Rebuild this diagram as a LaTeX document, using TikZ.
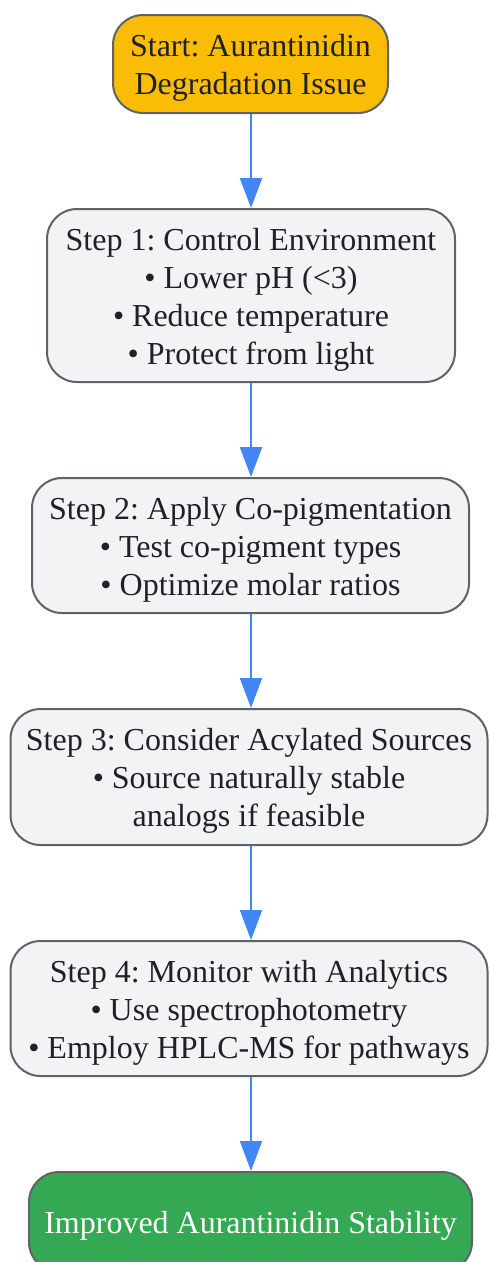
\documentclass[tikz,border=0pt]{standalone}
\usepackage{fontspec}
\setmainfont{Liberation Serif}
\frenchspacing
\usetikzlibrary{arrows.meta}
\definecolor{edgegray}{HTML}{5F6368}
\definecolor{stepfill}{HTML}{F1F3F4}
\definecolor{startfill}{HTML}{FBBC05}
\definecolor{endfill}{HTML}{34A853}
\definecolor{arrowblue}{HTML}{4285F4}
\definecolor{txt}{HTML}{202124}
\tikzset{
  box/.style={draw=edgegray, line width=2pt, rounded corners=30pt, inner sep=0pt},
  stepbox/.style={box, fill=stepfill},
  lbl/.style={align=center, font=\fontsize{32}{38}\selectfont\frenchspacing, text=txt,
    inner sep=0pt, anchor=center, yshift=-4pt},
  arr/.style={draw=arrowblue, line width=2pt, -{Triangle[length=30pt,width=22pt]}}
}
\begin{document}
\begin{tikzpicture}[x=1pt,y=-1pt]
\useasboundingbox (0,0) rectangle (489,1262);
\node[box, fill=startfill, minimum width=275pt, minimum height=98pt,
  label={[lbl]center:{Start: Aurantinidin\\Degradation Issue}}] (s) at (250.5,64) {};
\node[stepbox, minimum width=408pt, minimum height=173pt,
  label={[lbl]center:{Step 1: Control Environment\\• Lower pH (<3)\\• Reduce temperature\\• Protect from light}}] (a) at (251,295.5) {};
\node[stepbox, minimum width=437pt, minimum height=135pt,
  label={[lbl]center:{Step 2: Apply Co-pigmentation\\• Test co-pigment types\\• Optimize molar ratios}}] (b) at (250.5,545.5) {};
\node[stepbox, minimum width=477pt, minimum height=136pt,
  label={[lbl]center:{Step 3: Consider Acylated Sources\\• Source naturally stable\\analogs if feasible}}] (c) at (249,777) {};
\node[stepbox, minimum width=477pt, minimum height=135pt,
  label={[lbl]center:{Step 4: Monitor with Analytics\\• Use spectrophotometry\\• Employ HPLC-MS for pathways}}] (d) at (249,1008.5) {};
\node[box, fill=endfill, minimum width=443pt, minimum height=100pt,
  label={[lbl, text=white]center:{Improved Aurantinidin Stability}}] (e) at (250.5,1222) {};
\draw[arr] (s.south -| 251,0) -- (a.north -| 251,0);
\draw[arr] (a.south -| 251,0) -- (b.north -| 251,0);
\draw[arr] (b.south -| 251,0) -- (c.north -| 251,0);
\draw[arr] (c.south -| 251,0) -- (d.north -| 251,0);
\draw[arr] (d.south -| 251,0) -- (e.north -| 251,0);
\end{tikzpicture}
\end{document}
